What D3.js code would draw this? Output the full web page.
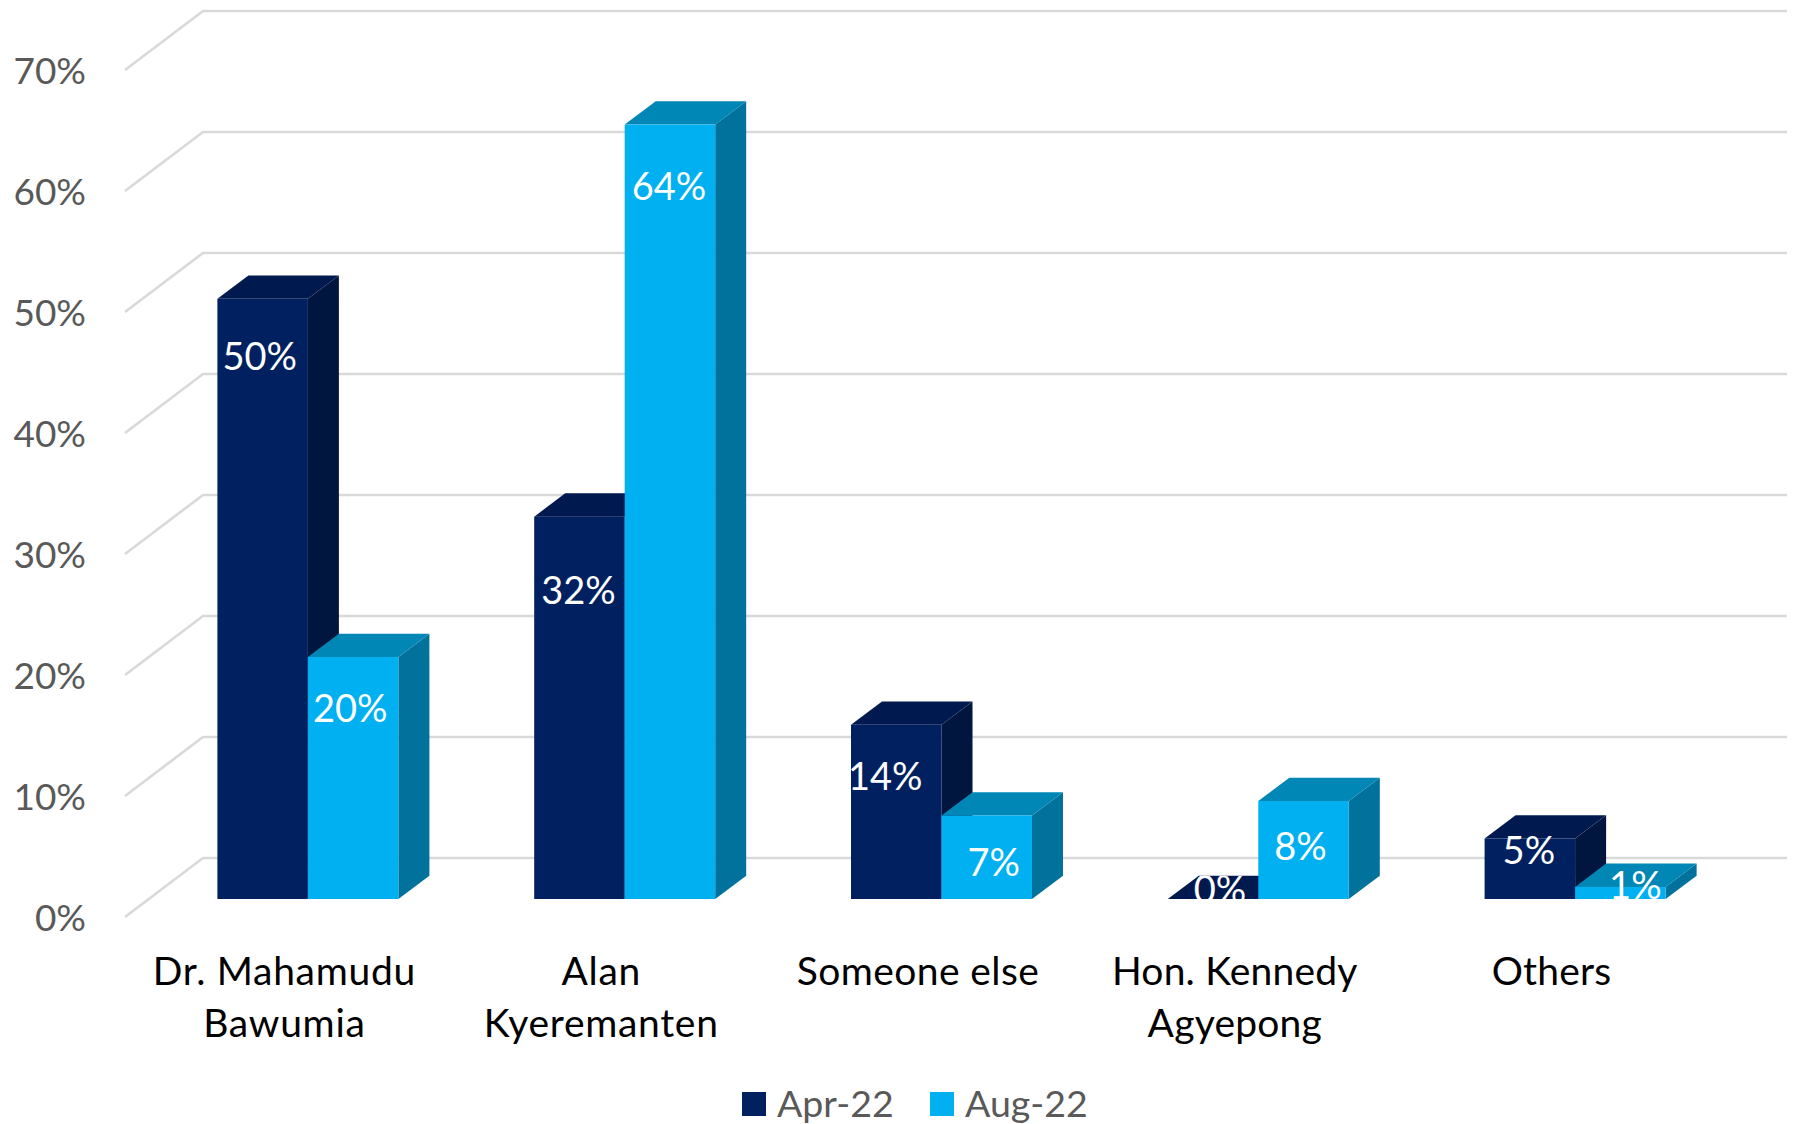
<!DOCTYPE html>
<html><head><meta charset="utf-8">
<script src="https://cdnjs.cloudflare.com/ajax/libs/d3/7.8.5/d3.min.js"></script>
<style>html,body{margin:0;padding:0;background:#fff}svg{display:block}text{font-family:Lato,"Open Sans",sans-serif}</style>
</head><body><svg id="c" width="1793" height="1124"></svg>
<script>
const categories=[["Dr. Mahamudu","Bawumia"],["Alan","Kyeremanten"],["Someone else"],["Hon. Kennedy","Agyepong"],["Others"]];
const seriesNames=["Apr-22","Aug-22"];
const apr=[49.6,31.6,14.4,0,5];
const aug=[20,64,6.9,8.1,1];
const aprLabels=["50%","32%","14%","0%","5%"];
const augLabels=["20%","64%","7%","8%","1%"];
const yTicks=[0,10,20,30,40,50,60,70];
// hand-placed data labels of the original, as heights on the value axis and shifts from the bar centre
const aprLabelAt=[44.9,25.6,10.2,0.9,4.1];
const augLabelAt=[15.8,59,3.1,4.4,1.2];
const aprLabelShift=[-3,-1,-11,7,-1];
const augLabelShift=[-3,-1,7,-3,15];
const categorySpacing=[0.7,0.7,0.4,0.2,0.2];

const svg=d3.select("#c");
const W=121/10*70;
const y=d3.scaleLinear().domain([0,70]).range([899,899-W]);
const x=d3.scaleBand().domain(d3.range(5)).range([149.5,149.5+1584]).padding(0);
const sub=d3.scaleBand().domain([0,1]).range([0,181]);
const dx=31,dy=23.3;
const gx0=125,gx1=203,gy0=18,gy1=-41,gxEnd=1787;
const colors=[{front:"#002060",top:"#001a4f",side:"#00163f"},{front:"#00B0F0",top:"#0087b6",side:"#00729c"}];

const grid=svg.append("g").attr("fill","none").attr("stroke","#d9d9d9").attr("stroke-width",2.6);
yTicks.forEach(t=>{
  grid.append("path").attr("d",d3.line()([[gx0,y(t)+gy0],[gx1,y(t)+gy1],[gxEnd,y(t)+gy1]]));
});
svg.append("g").selectAll("text").data(yTicks).join("text")
  .attr("x",86).attr("y",t=>y(t)+gy0+5).attr("text-anchor","end").attr("dominant-baseline","middle")
  .attr("font-size",37).attr("fill","#595959").text(t=>t+"%");

const bars=svg.append("g");
const defs=svg.append("defs");
const labelsG=svg.append("g");
categories.forEach((c,i)=>{
  const left=x(i)+x.bandwidth()/2-sub.bandwidth();
  [apr[i],aug[i]].forEach((v,s)=>{
    const x0=left+sub(s),x1=x0+sub.bandwidth(),yt=y(v),yb=y(0),col=colors[s];
    const g=bars.append("g");
    g.append("path").attr("fill",col.side).attr("d",d3.line()([[x1,yt],[x1+dx,yt-dy],[x1+dx,yb-dy],[x1,yb]])+"Z");
    g.append("path").attr("fill",col.top).attr("d",d3.line()([[x0,yt],[x0+dx,yt-dy],[x1+dx,yt-dy],[x1,yt]])+"Z");
    if(v>0)g.append("rect").attr("fill",col.front).attr("x",x0).attr("y",yt).attr("width",x1-x0).attr("height",yb-yt);
    const lbl=s===0?aprLabels[i]:augLabels[i];
    const at=s===0?aprLabelAt[i]:augLabelAt[i];
    const shift=s===0?aprLabelShift[i]:augLabelShift[i];
    const t=labelsG.append("text").attr("x",(x0+x1)/2+shift).attr("y",y(at)+14.5).attr("text-anchor","middle").attr("font-size",38).attr("fill","#fff").text(lbl);
    if(v<3){
      const id="clip"+i+s;
      const h=v===0?dy:60;
      defs.append("clipPath").attr("id",id).append("rect").attr("x",x0-5).attr("y",yb-h).attr("width",x1-x0+dx+10).attr("height",h);
      t.attr("clip-path","url(#"+id+")");
    }
  });
  const cxc=x(i)+x.bandwidth()/2-23.5;
  const tt=svg.append("text").attr("text-anchor","middle").attr("font-size",39).attr("letter-spacing",categorySpacing[i]).attr("fill","#000");
  c.forEach((ln,k)=>tt.append("tspan").attr("x",cxc).attr("y",985+k*52).text(ln));
});
const leg=svg.append("g");
seriesNames.forEach((n,i)=>{
  const lx=[742,930][i];
  leg.append("rect").attr("x",lx).attr("y",1092).attr("width",24).attr("height",24).attr("fill",colors[i].front);
  leg.append("text").attr("x",lx+35).attr("y",1117).attr("font-size",37.5).attr("fill","#595959").text(n);
});
</script></body></html>
